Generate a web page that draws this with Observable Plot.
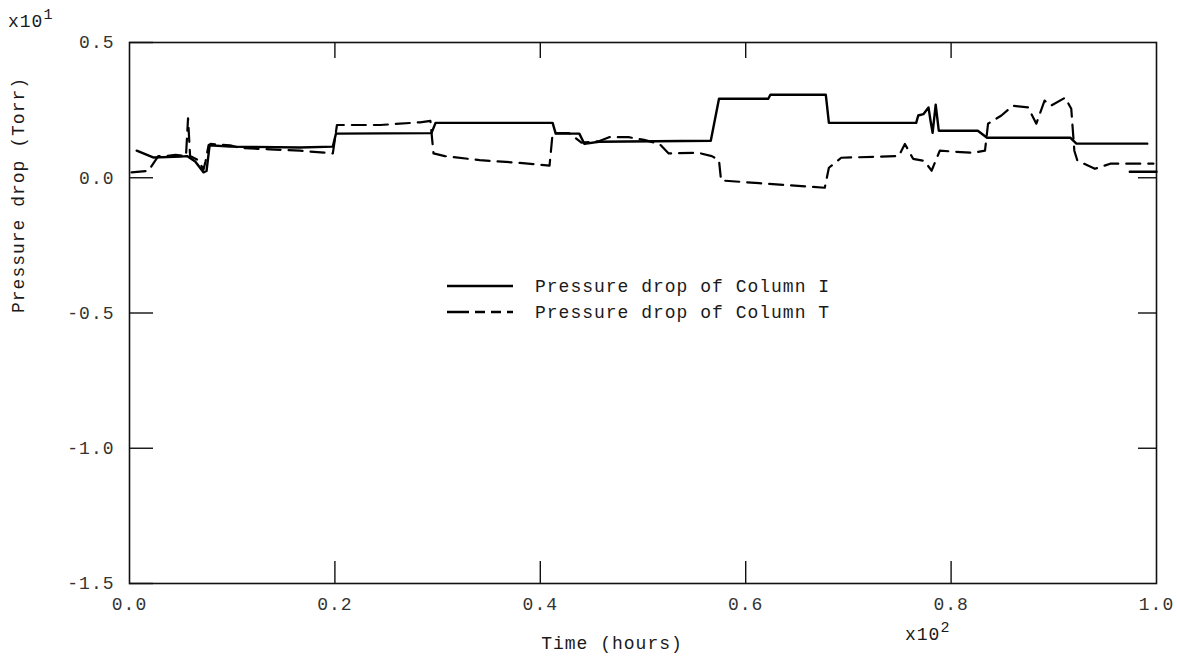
<!DOCTYPE html>
<html>
<head>
<meta charset="utf-8">
<script src="https://cdn.jsdelivr.net/npm/d3@7"></script>
<script src="https://cdn.jsdelivr.net/npm/@observablehq/plot@0.6"></script>
<style>
  html, body { margin: 0; padding: 0; background: #fff; }
  #chart { position: relative; width: 1177px; height: 662px; }
</style>
</head>
<body>
<div id="chart"></div>
<script>
// Column I (solid) — time in units of x10^2 hours, pressure drop in units of x10^1 Torr
const timeI = [0.007,0.023,0.050,0.056,0.064,0.072,0.075,0.078,0.098,0.166,0.198,0.201,0.294,0.298,0.412,0.415,0.438,0.443,0.457,0.566,0.574,0.622,0.624,0.678,0.681,0.766,0.768,0.773,0.778,0.780,0.782,0.785,0.788,0.826,0.835,0.916,0.922,0.991,0.991,0.974,1.0];
const pressureI = [0.10,0.075,0.078,0.08,0.06,0.02,0.025,0.12,0.115,0.112,0.115,0.163,0.165,0.203,0.203,0.163,0.163,0.125,0.133,0.137,0.292,0.292,0.307,0.307,0.203,0.203,0.23,0.235,0.26,0.21,0.166,0.27,0.174,0.174,0.148,0.148,0.126,0.126,NaN,0.022,0.022];

// Column T (dashed)
const timeT = [0.002,0.018,0.020,0.028,0.035,0.045,0.055,0.057,0.059,0.067,0.072,0.074,0.077,0.079,0.098,0.108,0.137,0.166,0.198,0.202,0.244,0.283,0.293,0.296,0.307,0.341,0.380,0.409,0.412,0.428,0.440,0.457,0.467,0.486,0.501,0.516,0.525,0.554,0.567,0.574,0.576,0.613,0.651,0.677,0.681,0.693,0.749,0.755,0.763,0.774,0.781,0.789,0.821,0.833,0.836,0.849,0.860,0.875,0.883,0.891,0.897,0.911,0.917,0.920,0.923,0.940,0.955,0.997];
const pressureT = [0.02,0.025,0.035,0.08,0.08,0.085,0.08,0.22,0.08,0.065,0.03,0.06,0.12,0.125,0.12,0.11,0.105,0.10,0.09,0.195,0.195,0.205,0.21,0.09,0.08,0.065,0.055,0.045,0.165,0.165,0.13,0.135,0.15,0.15,0.14,0.125,0.09,0.092,0.08,0.065,-0.01,-0.02,-0.03,-0.037,0.037,0.074,0.08,0.125,0.07,0.062,0.026,0.1,0.092,0.1,0.2,0.23,0.266,0.26,0.2,0.285,0.266,0.296,0.255,0.1,0.063,0.033,0.052,0.052];

const xTicks = [0, 0.2, 0.4, 0.6, 0.8, 1.0];
const xInnerTicks = [0.2, 0.4, 0.6, 0.8];
const yTicks = [-1.5, -1.0, -0.5, 0.0, 0.5];
const yRightTicks = [-1.0, -0.5, 0.0];
const seriesNames = ["Pressure drop of Column I", "Pressure drop of Column T"];
const xTitle = "Time (hours)";
const yTitle = "Pressure drop (Torr)";
const expBase = "x10";
const xExpPower = "2";
const yExpPower = "1";

const W = 1177, H = 662;
const mL = 129, mR = 21, mT = 42, mB = 79;
const pw = W - mL - mR, ph = H - mT - mB;
const font = "'Liberation Mono', 'DejaVu Sans Mono', monospace";
const ink = "#1a1a1a";

const dataI = timeI.map((t, i) => ({t, p: pressureI[i]}));
const dataT = timeT.map((t, i) => ({t, p: pressureT[i]}));
const fmt = d => d.toFixed(1);

const plot = Plot.plot({
  width: W, height: H,
  marginLeft: mL, marginRight: mR, marginTop: mT, marginBottom: mB,
  style: {fontFamily: font, fontSize: "18px", color: ink, background: "#fff", letterSpacing: "1px"},
  x: {domain: [0, 1], axis: null},
  y: {domain: [-1.5, 0.5], axis: null},
  marks: [
    Plot.frame({stroke: "#111", strokeWidth: 1.6}),
    Plot.axisX(xTicks, {tickSize: 0, tickPadding: 14, tickFormat: fmt, fontSize: 18, fill: "#333", label: null}),
    Plot.axisY(yTicks, {tickSize: 0, tickPadding: 15, tickFormat: fmt, fontSize: 18, fill: "#333", label: null}),
    Plot.tickY(yTicks, {y: d => d, insetRight: pw - 24, stroke: "#111", strokeWidth: 1.4}),
    Plot.tickY(yRightTicks, {y: d => d, insetLeft: pw - 18, stroke: "#111", strokeWidth: 1.4}),
    Plot.tickX(xInnerTicks, {x: d => d, insetTop: ph - 22, stroke: "#111", strokeWidth: 1.4}),
    Plot.tickX(xInnerTicks, {x: d => d, insetBottom: ph - 16, stroke: "#111", strokeWidth: 1.4}),
    Plot.line(dataI, {x: "t", y: "p", stroke: "#000", strokeWidth: 2.4, curve: "linear"}),
    Plot.line(dataT, {x: "t", y: "p", stroke: "#000", strokeWidth: 2.2, strokeDasharray: "14,8", curve: "linear"}),
    Plot.text([xTitle], {frameAnchor: "bottom", dx: -31, dy: 65, fontSize: 18, fill: ink}),
    Plot.text([yTitle], {frameAnchor: "left", dx: -111, rotate: -90, fontSize: 18, fill: ink})
  ]
});

document.getElementById("chart").appendChild(plot);

const svg = d3.select(plot);

// Exponent labels with superscripts
function expLabel(x, y, power) {
  const t = svg.append("text").attr("x", x).attr("y", y)
    .attr("font-family", font).attr("font-size", 18).attr("fill", ink)
    .attr("text-anchor", "start").attr("letter-spacing", "1px");
  t.append("tspan").text(expBase);
  t.append("tspan").attr("dy", -8).attr("font-size", 15).text(power);
}
expLabel(8, 27, yExpPower);
expLabel(905, 640, xExpPower);

// Legend (inside the plot area)
const lg = svg.append("g").attr("font-family", font).attr("font-size", 18)
  .attr("fill", ink).attr("letter-spacing", "1px").attr("text-anchor", "start");
const legendRows = [
  {name: seriesNames[0], dash: null, y: 286},
  {name: seriesNames[1], dash: "22,6,10,6,10,6", y: 312}
];
legendRows.forEach(r => {
  lg.append("line").attr("x1", 447).attr("x2", 513).attr("y1", r.y).attr("y2", r.y)
    .attr("stroke", "#000").attr("stroke-width", 2.4)
    .attr("stroke-dasharray", r.dash);
  lg.append("text").attr("x", 535).attr("y", r.y).attr("dy", "0.35em").text(r.name);
});
</script>
</body>
</html>
